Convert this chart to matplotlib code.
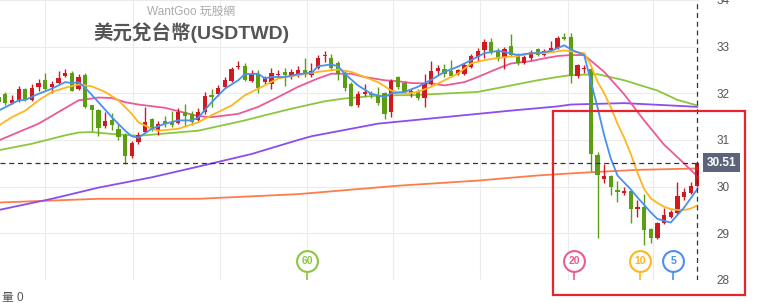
import matplotlib
matplotlib.use("Agg")
import matplotlib.pyplot as plt
import matplotlib.transforms as mtrans
from matplotlib.patches import Rectangle
import numpy as np

plt.rcParams['font.family'] = ['Liberation Sans', 'Noto Sans CJK TC', 'DejaVu Sans']

# ---- candles (open, high, low, close), oldest first ----
opens = [31.92, 31.99, 31.79, 31.85, 32.09, 31.86, 32.14, 32.28, 32.14, 32.22,
         32.37, 32.44, 32.10, 32.39, 31.74, 31.65, 31.30, 31.43, 31.24, 31.10,
         30.65, 30.95, 31.17, 31.45, 31.22, 31.40, 31.38, 31.36, 31.61, 31.56,
         31.42, 31.60, 31.96, 31.99, 32.14, 32.27, 32.57, 32.58, 32.27, 32.42,
         32.24, 32.21, 32.40, 32.45, 32.38, 32.40, 32.49, 32.39, 32.55, 32.79,
         32.76, 32.64, 32.41, 32.21, 31.76, 31.99, 32.00, 31.96, 32.01, 31.60,
         32.34, 32.23, 32.01, 32.06, 31.91, 32.21, 32.48, 32.53, 32.47, 32.41,
         32.41, 32.57, 32.78, 32.92, 33.09, 32.90, 32.75, 33.01, 32.82, 32.65,
         32.75, 32.94, 32.83, 32.92, 32.98, 33.20, 33.20, 32.37, 32.52, 32.53,
         30.67, 30.17, 30.22, 29.93, 29.86, 29.91, 29.52, 29.56, 29.09, 28.90,
         29.23, 29.36, 29.43, 29.77, 29.86, 30.01]
highs = [31.95, 32.03, 31.96, 32.15, 32.12, 32.21, 32.30, 32.44, 32.26, 32.47,
         32.53, 32.48, 32.41, 32.44, 31.76, 31.67, 31.61, 31.58, 31.35, 31.16,
         30.97, 31.17, 31.71, 31.47, 31.40, 31.52, 31.63, 31.68, 31.78, 31.63,
         31.68, 32.03, 32.10, 32.17, 32.35, 32.57, 32.70, 32.66, 32.50, 32.49,
         32.38, 32.55, 32.50, 32.54, 32.52, 32.58, 32.76, 32.64, 32.82, 32.91,
         32.84, 32.70, 32.49, 32.25, 32.04, 32.21, 32.05, 32.13, 32.03, 32.30,
         32.38, 32.26, 32.10, 32.09, 32.42, 32.69, 32.60, 32.62, 32.72, 32.52,
         32.65, 32.85, 32.97, 33.16, 33.18, 32.97, 33.00, 33.27, 32.86, 32.82,
         32.93, 32.97, 32.95, 33.12, 33.23, 33.30, 33.30, 32.62, 32.60, 32.55,
         30.74, 30.49, 30.24, 30.13, 30.00, 29.95, 29.71, 29.84, 29.12, 29.24,
         29.54, 29.50, 30.11, 29.98, 30.11, 30.53]
lows = [31.78, 31.76, 31.77, 31.81, 31.83, 31.84, 32.06, 32.08, 32.01, 32.20,
        32.35, 32.04, 32.08, 31.69, 31.20, 31.08, 31.25, 31.22, 30.99, 30.49,
        30.62, 30.92, 31.15, 31.20, 31.10, 31.28, 31.28, 31.34, 31.30, 31.33,
        31.40, 31.56, 31.71, 31.95, 32.12, 32.25, 32.52, 32.26, 32.25, 32.00,
        32.20, 32.10, 32.35, 32.15, 32.30, 32.36, 32.35, 32.36, 32.52, 32.68,
        32.50, 32.28, 32.05, 31.72, 31.71, 31.94, 31.90, 31.75, 31.45, 31.50,
        32.10, 32.00, 31.92, 31.85, 31.71, 32.18, 32.40, 32.35, 32.35, 32.39,
        32.39, 32.55, 32.70, 32.75, 32.85, 32.70, 32.53, 32.80, 32.60, 32.62,
        32.72, 32.80, 32.81, 32.90, 32.96, 33.14, 32.22, 32.33, 32.44, 30.34,
        28.91, 30.08, 29.83, 29.68, 29.83, 29.23, 29.34, 28.75, 28.80, 28.88,
        29.19, 29.33, 29.41, 29.72, 29.84, 30.00]
closes = [31.81, 31.79, 31.85, 32.09, 31.85, 32.12, 32.22, 32.10, 32.20, 32.32,
          32.44, 32.06, 32.34, 31.71, 31.65, 31.26, 31.40, 31.33, 31.06, 30.65,
          30.93, 31.10, 31.38, 31.22, 31.35, 31.35, 31.33, 31.61, 31.51, 31.38,
          31.60, 31.94, 31.92, 32.11, 32.29, 32.52, 32.59, 32.28, 32.42, 32.11,
          32.33, 32.44, 32.42, 32.39, 32.45, 32.49, 32.39, 32.47, 32.76, 32.80,
          32.55, 32.42, 32.12, 31.73, 31.99, 32.03, 31.96, 31.79, 31.56, 32.26,
          32.14, 32.03, 32.06, 31.91, 32.23, 32.47, 32.55, 32.41, 32.37, 32.49,
          32.60, 32.80, 32.90, 33.10, 32.87, 32.73, 32.96, 32.82, 32.65, 32.78,
          32.89, 32.82, 32.91, 32.98, 33.18, 33.16, 32.37, 32.60, 32.54, 30.70,
          30.26, 30.22, 29.99, 29.88, 29.91, 29.52, 29.57, 29.07, 28.90, 29.22,
          29.39, 29.46, 29.81, 29.88, 30.02, 30.51]
last_price = 30.51

# ---- moving averages at candle positions ----
ma5_x = [0, 3, 4, 6, 8, 10, 11, 12, 13, 15, 17, 19, 20, 21, 23, 25, 27, 29, 30,
         32, 34, 36, 37, 39, 40, 41, 43, 45, 47, 48, 50, 51, 52, 54, 56, 58, 59,
         61, 63, 65, 67, 69, 71, 73, 75, 76, 78, 80, 81, 83, 85, 86, 88, 89, 90,
         91, 92, 93, 95, 96, 98, 99, 101, 103, 105]
ma5_y = [31.63, 31.85, 31.86, 31.99, 32.10, 32.24, 32.22, 32.24, 32.12, 31.81,
         31.49, 31.20, 31.08, 31.05, 31.24, 31.35, 31.42, 31.42, 31.48, 31.81,
         32.10, 32.28, 32.41, 32.42, 32.32, 32.35, 32.35, 32.41, 32.44, 32.58,
         32.62, 32.58, 32.42, 32.17, 31.99, 31.92, 32.00, 32.03, 32.14, 32.29,
         32.46, 32.57, 32.71, 32.86, 32.91, 32.89, 32.82, 32.86, 32.86, 32.91,
         33.03, 32.94, 32.82, 32.25, 31.70, 31.10, 30.60, 30.24, 29.94, 29.77,
         29.45, 29.31, 29.23, 29.55, 29.95]
ma10_x = [0, 2, 4, 6, 8, 10, 12, 14, 16, 18, 20, 21, 23, 24, 27, 30, 32, 35, 37,
          40, 42, 45, 48, 51, 53, 55, 57, 59, 61, 63, 65, 67, 69, 71, 73, 75, 78,
          80, 82, 85, 88, 89, 90, 91, 92, 93, 94, 95, 96, 97, 98, 99, 100, 101,
          102, 103, 104, 105]
ma10_y = [31.31, 31.49, 31.63, 31.85, 32.03, 32.12, 32.19, 32.15, 32.03, 31.85,
          31.56, 31.38, 31.24, 31.20, 31.24, 31.38, 31.53, 31.74, 31.96, 32.17,
          32.32, 32.39, 32.46, 32.51, 32.46, 32.35, 32.24, 32.06, 31.99, 32.03,
          32.14, 32.28, 32.42, 32.64, 32.71, 32.76, 32.80, 32.86, 32.86, 32.92,
          32.86, 32.60, 32.25, 32.00, 31.70, 31.35, 31.05, 30.70, 30.30, 29.95,
          29.75, 29.65, 29.57, 29.52, 29.50, 29.50, 29.53, 29.60]
ma20_x = [0, 3, 6, 9, 12, 15, 17, 19, 21, 25, 30, 32, 36, 39, 41, 42, 45, 48, 50,
          53, 55, 58, 60, 62, 65, 67, 70, 72, 75, 77, 80, 82, 84, 86, 88, 91, 94,
          97, 100, 103, 105]
ma20_y = [30.99, 31.17, 31.35, 31.60, 31.85, 31.91, 31.90, 31.81, 31.76, 31.69,
          31.51, 31.49, 31.56, 31.71, 31.85, 31.92, 32.14, 32.32, 32.42, 32.42,
          32.35, 32.28, 32.26, 32.22, 32.21, 32.17, 32.24, 32.35, 32.53, 32.64,
          32.69, 32.75, 32.80, 32.82, 32.82, 32.46, 31.98, 31.42, 30.90, 30.50,
          30.22]
ma60_x = [0, 5, 10, 12, 14, 17, 21, 30, 37, 40, 44, 49, 52, 56, 60, 62, 72, 81,
          84, 86, 90, 94, 99, 102, 105]
ma60_y = [30.78, 30.92, 31.10, 31.16, 31.17, 31.13, 31.09, 31.20, 31.42, 31.53,
          31.67, 31.83, 31.89, 31.94, 31.96, 31.96, 32.03, 32.28, 32.35, 32.39,
          32.41, 32.28, 32.06, 31.86, 31.74]
ma120_x = [0, 8, 15, 23, 30, 38, 45, 47, 57, 67, 77, 84, 86, 94, 101, 105]
ma120_y = [29.50, 29.74, 29.98, 30.20, 30.43, 30.70, 31.00, 31.08, 31.35, 31.49,
           31.63, 31.72, 31.76, 31.79, 31.74, 31.71]
ma240_x = [0, 15, 30, 45, 60, 72, 81, 89, 96, 105]
ma240_y = [29.66, 29.74, 29.74, 29.84, 30.02, 30.13, 30.24, 30.31, 30.36, 30.39]

# badges sitting at the bottom of the chart: (label, candle position)
badge_labels = ["60", "20", "10", "5"]
badge_pos = [46.4, 86.5, 96.4, 101.4]

yticks = [28, 29, 30, 31, 32, 33, 34]
vgrid = [6.95, 20.2, 33.3, 46.4, 59.3, 72.4, 85.5, 98.4]

c_up, c_dn = "#cf1a22", "#5b9e12"
c5, c10, c20, c60, c120, c240 = "#4a90f0", "#ffb61e", "#eb5a95", "#8cc63f", "#8b4cf0", "#ff7b4a"

fig = plt.figure(figsize=(7.57, 3.03), dpi=100)
ax = fig.add_axes([0, 1 - 280 / 303, 700 / 757, 280 / 303])
ax.set_xlim(0.2, 105.4)
ax.set_ylim(28, 34)
for s in ax.spines.values():
    s.set_visible(False)

ax.set_yticks(yticks)
ax.set_xticks(vgrid)
ax.set_xticklabels([])
ax.yaxis.tick_right()
ax.tick_params(axis="y", length=0, pad=12, labelsize=8.5, labelcolor="#555555")
ax.tick_params(axis="x", length=0)
ax.grid(True, color="#ebebeb", linewidth=0.8)
ax.set_axisbelow(True)

# MA lines
ax.plot(ma240_x, ma240_y, color=c240, lw=1.3, zorder=2)
ax.plot(ma120_x, ma120_y, color=c120, lw=1.3, zorder=2)
ax.plot(ma60_x, ma60_y, color=c60, lw=1.3, zorder=2)
ax.plot(ma20_x, ma20_y, color=c20, lw=1.3, zorder=2)

# candles
idx = np.arange(len(closes))
o = np.array(opens); c = np.array(closes)
cols = [c_up if cc >= oo else c_dn for oo, cc in zip(o, c)]
ax.vlines(idx, lows, highs, colors=cols, lw=1, zorder=3)
body = np.maximum(np.abs(c - o), 0.025)
ax.bar(idx, body, bottom=np.minimum(o, c), width=0.64, color=cols, zorder=4)

ax.plot(ma10_x, ma10_y, color=c10, lw=1.3, zorder=5)
ax.plot(ma5_x, ma5_y, color=c5, lw=1.3, zorder=5)

# last price guides
ax.axhline(last_price, color="#333333", lw=0.9, ls=(0, (4, 3)), zorder=6)
ax.axvline(idx[-1], color="#333333", lw=0.9, ls=(0, (4, 3)), zorder=6)
tr = mtrans.blended_transform_factory(ax.transAxes, ax.transData)
ax.text(1.031, last_price, "%.2f" % last_price, transform=tr, ha="center", va="center",
        color="white", fontsize=8.5, fontweight="bold", clip_on=False,
        bbox=dict(boxstyle="square,pad=0.3", fc="#5b6479", ec="none"))

# MA badges
trb = mtrans.blended_transform_factory(ax.transData, ax.transAxes)
for lab, xp, col in zip(badge_labels, badge_pos, [c60, c20, c10, c5]):
    ax.plot([xp, xp], [0, 0.03], color=col, lw=1.2, transform=trb, zorder=7)
    ax.plot([xp], [0.068], marker="o", ms=15, mfc="white", mec=col, mew=1.5,
            transform=trb, zorder=8)
    ax.text(xp, 0.068, lab, color=col, fontsize=7.5, fontweight="bold",
            ha="center", va="center", transform=trb, zorder=9)

# titles
fig.text(191 / 757, 1 - 12 / 303, "WantGoo 玩股網", ha="center", va="center",
         fontsize=8.5, color="#aaaaaa")
fig.text(191 / 757, 1 - 33 / 303, "美元兌台幣(USDTWD)", ha="center", va="center",
         fontsize=14, fontweight="bold", color="#555555")
fig.text(2 / 757, 1 - 298 / 303, "量 0", ha="left", va="center",
         fontsize=8.5, color="#555555")

# highlight box
fig.patches.append(Rectangle((553 / 757, 1 - 295 / 303), 192 / 757, 184 / 303,
                             transform=fig.transFigure, fill=False,
                             ec="#e8232b", lw=1.6))

plt.savefig("out.png", dpi=100)
